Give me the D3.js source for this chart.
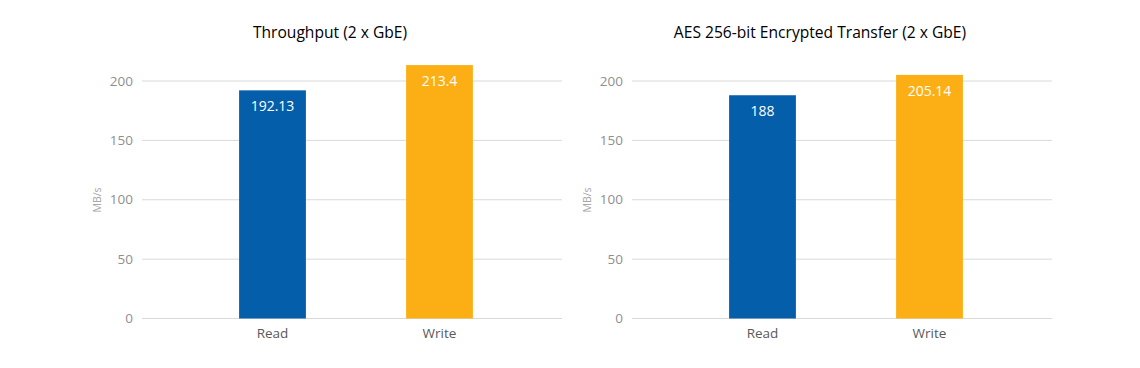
<!DOCTYPE html>
<html>
<head>
<meta charset="utf-8">
<script src="https://cdn.jsdelivr.net/npm/d3@7"></script>
<style>
  body { margin: 0; background: #fff; }
  svg text { font-family: "Open Sans", sans-serif; }
</style>
</head>
<body>
<script>
var categories = ["Read", "Write"];
var titles = ["Throughput (2 x GbE)", "AES 256-bit Encrypted Transfer (2 x GbE)"];
var throughputValues = [192.13, 213.4];
var aesValues = [188, 205.14];
var valueLabels = [["192.13", "213.4"], ["188", "205.14"]];
var yTicks = [0, 50, 100, 150, 200];
var barColors = ["#055ea9", "#fbaf14"];

var svgWidth = 1140, svgHeight = 368;
var svg = d3.select("body").append("svg")
    .attr("width", svgWidth)
    .attr("height", svgHeight);

// each panel: grid from 142 to 562, shifted 490 for the second one
var panelOffset = 490;
var gridLeft = 142, gridRight = 562;
var plotTop = 81, plotBottom = 318.5;

var y = d3.scaleLinear().domain([0, 200]).range([plotBottom, plotTop]);
var x = d3.scaleBand().domain(categories)
    .range([189, 523])
    .paddingInner(0.6)
    .paddingOuter(0.3);

var series = [throughputValues, aesValues];

series.forEach(function(values, p) {
    var g = svg.append("g").attr("transform", "translate(" + (p * panelOffset) + ",0)");

    // gridlines
    g.selectAll(".grid").data(yTicks).enter()
        .append("line")
        .attr("x1", gridLeft)
        .attr("x2", gridRight)
        .attr("y1", d => y(d))
        .attr("y2", d => y(d))
        .attr("stroke", "#d9d9d9")
        .attr("stroke-width", 1);

    // y tick labels
    g.selectAll(".ytick").data(yTicks).enter()
        .append("text")
        .attr("x", gridLeft - 9)
        .attr("y", d => y(d))
        .attr("dy", "0.35em")
        .attr("text-anchor", "end")
        .attr("font-size", 13.5)
        .attr("fill", "#8f8f8f")
        .text(d => d);

    // y axis title
    g.append("text")
        .attr("transform", "translate(101,200) rotate(-90)")
        .attr("text-anchor", "middle")
        .attr("font-size", 10.5)
        .attr("fill", "#a6a6a6")
        .text("MB/s");

    // bars
    g.selectAll(".bar").data(values).enter()
        .append("rect")
        .attr("x", (d, i) => x(categories[i]))
        .attr("width", x.bandwidth())
        .attr("y", d => y(d))
        .attr("height", d => y(0) - y(d))
        .attr("fill", (d, i) => barColors[i]);

    // value labels
    g.selectAll(".val").data(values).enter()
        .append("text")
        .attr("x", (d, i) => x(categories[i]) + x.bandwidth() / 2)
        .attr("y", d => y(d) + 21)
        .attr("text-anchor", "middle")
        .attr("font-size", 14)
        .attr("fill", "#ffffff")
        .text((d, i) => valueLabels[p][i]);

    // category labels
    g.selectAll(".cat").data(categories).enter()
        .append("text")
        .attr("x", d => x(d) + x.bandwidth() / 2)
        .attr("y", 338)
        .attr("text-anchor", "middle")
        .attr("font-size", 13.5)
        .attr("fill", "#595959")
        .text(d => d);

    // title
    g.append("text")
        .attr("x", 330)
        .attr("y", 38)
        .attr("text-anchor", "middle")
        .attr("font-size", 15.6)
        .attr("fill", "#000000")
        .text(titles[p]);
});
</script>
</body>
</html>
